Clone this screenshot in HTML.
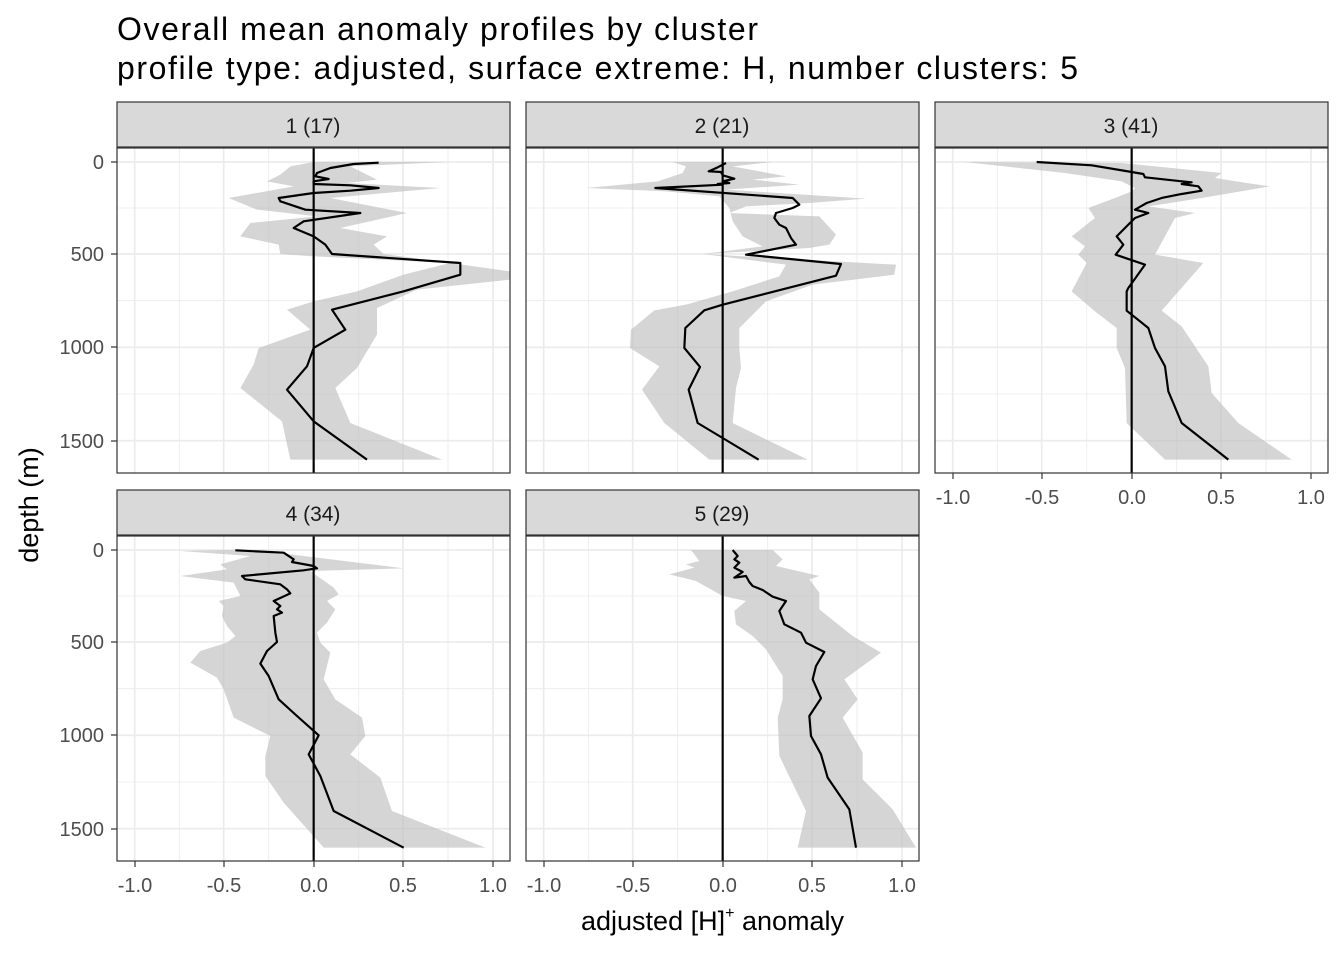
<!DOCTYPE html>
<html><head><meta charset="utf-8"><style>html,body{margin:0;padding:0;background:#fff}svg{display:block}text{font-family:"Liberation Sans",sans-serif}</style></head>
<body>
<svg width="1344" height="960" viewBox="0 0 1344 960" xmlns="http://www.w3.org/2000/svg">
<defs>
<g id="grid">
<rect x="0" y="0" width="1179" height="975" fill="#fff"/>
<g stroke="#ebebeb" stroke-width="2.6">
<line x1="187" y1="0" x2="187" y2="975"/><line x1="455" y1="0" x2="455" y2="975"/><line x1="725" y1="0" x2="725" y2="975"/><line x1="993" y1="0" x2="993" y2="975"/>
<line x1="0" y1="180" x2="1179" y2="180"/><line x1="0" y1="458" x2="1179" y2="458"/><line x1="0" y1="738" x2="1179" y2="738"/>
</g>
<g stroke="#ebebeb" stroke-width="5">
<line x1="53" y1="0" x2="53" y2="975"/><line x1="320" y1="0" x2="320" y2="975"/><line x1="590" y1="0" x2="590" y2="975"/><line x1="858" y1="0" x2="858" y2="975"/><line x1="1128" y1="0" x2="1128" y2="975"/>
<line x1="0" y1="42" x2="1179" y2="42"/><line x1="0" y1="318" x2="1179" y2="318"/><line x1="0" y1="598" x2="1179" y2="598"/><line x1="0" y1="878" x2="1179" y2="878"/>
</g>
</g>
</defs>

<text x="117" y="40" font-size="32" fill="#000" textLength="641">Overall mean anomaly profiles by cluster</text>
<text x="117" y="79" font-size="32" fill="#000" textLength="961">profile type: adjusted, surface extreme: H, number clusters: 5</text>

<!-- Panel 1 -->
<g transform="translate(117,148) scale(0.33333)">
<use href="#grid"/>
<polygon fill="#bebebe" fill-opacity="0.65" points="990,42 700,55 780,95 690,105 970,120 640,150 870,195 670,240 810,265 770,290 800,318 1000,345 1179,370 1179,395 900,425 780,480 780,560 720,660 655,720 700,825 975,935 520,935 495,820 370,720 410,650 425,600 580,545 510,485 590,460 720,430 860,380 1000,345 590,325 490,318 485,290 370,265 400,225 600,205 420,185 335,150 530,115 450,100 490,80 520,55 590,42"/>
<line x1="590" y1="0" x2="590" y2="975" stroke="#000" stroke-width="6.5"/>
<polyline fill="none" stroke="#000" stroke-width="6.5" stroke-linejoin="round" points="785,44 710,48 640,60 600,75 595,85 635,93 590,100 590,108 700,112 785,120 700,128 590,135 485,150 490,160 565,185 730,195 560,220 530,240 590,265 625,290 645,318 1030,345 1030,380 860,430 645,485 685,545 590,600 570,655 510,725 590,820 750,935"/>
</g>
<!-- Panel 2 -->
<g transform="translate(526,148) scale(0.33333)">
<use href="#grid"/>
<polygon fill="#bebebe" fill-opacity="0.65" points="740,42 620,55 780,85 680,95 820,110 600,125 1020,152 850,165 660,175 610,195 880,205 930,260 910,290 850,300 530,318 1110,350 1105,380 860,410 720,460 690,490 640,540 640,600 645,660 630,720 620,825 845,935 550,935 415,825 348,725 400,655 312,600 315,545 385,487 480,470 620,430 760,385 780,350 530,318 710,295 650,265 620,220 610,180 580,145 420,130 180,120 395,100 470,75 480,55 440,42"/>
<line x1="590" y1="0" x2="590" y2="975" stroke="#000" stroke-width="6.5"/>
<polyline fill="none" stroke="#000" stroke-width="6.5" stroke-linejoin="round" points="600,45 575,58 548,70 585,72 590,82 625,92 590,100 610,105 575,108 590,110 388,120 800,150 820,170 800,180 750,195 745,210 760,230 780,240 795,270 810,290 660,320 945,348 930,383 590,470 535,487 478,540 475,600 522,657 488,725 515,825 590,870 698,935"/>
</g>
<!-- Panel 3 -->
<g transform="translate(935,148) scale(0.33333)">
<use href="#grid"/>
<polygon fill="#bebebe" fill-opacity="0.65" points="90,42 560,45 860,75 840,90 935,105 1005,115 800,150 640,175 780,195 720,210 660,320 805,345 680,488 740,535 820,655 830,735 910,825 1070,935 690,935 575,825 570,660 545,600 545,540 480,490 410,430 455,345 430,320 450,295 410,265 480,210 460,180 540,150 590,130 600,120 560,100 390,75"/>
<line x1="590" y1="0" x2="590" y2="975" stroke="#000" stroke-width="6.5"/>
<polyline fill="none" stroke="#000" stroke-width="6.5" stroke-linejoin="round" points="305,42 470,52 590,72 625,78 630,88 740,100 770,103 740,108 790,115 800,128 740,138 680,150 635,165 600,185 640,195 600,210 580,230 545,265 565,290 542,320 630,350 580,420 575,430 575,488 640,540 660,600 690,655 700,730 740,825 880,935"/>
</g>
<!-- Panel 4 -->
<g transform="translate(117,536) scale(0.33333)">
<use href="#grid"/>
<polygon fill="#bebebe" fill-opacity="0.65" points="340,42 520,55 860,97 580,105 650,155 665,175 630,195 655,220 630,260 600,290 610,320 640,350 620,430 655,490 735,545 745,600 700,655 790,725 825,825 1105,935 620,935 500,800 445,720 445,660 460,600 350,545 320,460 300,425 220,380 250,345 330,320 355,300 330,270 315,240 320,210 305,195 370,180 350,140 190,120 330,100 310,85 400,60 190,45"/>
<line x1="590" y1="0" x2="590" y2="975" stroke="#000" stroke-width="6.5"/>
<polyline fill="none" stroke="#000" stroke-width="6.5" stroke-linejoin="round" points="355,43 500,50 530,70 525,78 590,90 600,97 560,103 375,120 385,130 490,145 510,160 520,172 470,195 490,210 480,220 495,230 470,240 475,290 480,318 450,345 430,383 455,420 485,490 540,540 605,598 575,655 610,720 650,825 860,935"/>
</g>
<!-- Panel 5 -->
<g transform="translate(526,536) scale(0.33333)">
<use href="#grid"/>
<polygon fill="#bebebe" fill-opacity="0.65" points="740,42 770,70 750,90 880,120 850,130 880,170 880,220 980,300 1065,350 955,430 995,490 950,545 1010,650 1010,730 1100,820 1170,935 815,935 840,825 760,660 755,545 770,490 770,420 720,340 680,300 630,265 625,225 660,195 590,180 510,135 430,115 505,95 480,85 520,75 495,42"/>
<line x1="590" y1="0" x2="590" y2="975" stroke="#000" stroke-width="6.5"/>
<polyline fill="none" stroke="#000" stroke-width="6.5" stroke-linejoin="round" points="620,42 635,60 625,70 640,80 625,95 650,108 625,125 660,120 670,138 680,150 710,162 740,182 780,195 760,225 775,265 825,290 840,320 895,348 870,390 860,430 885,487 850,540 855,600 885,655 905,725 970,820 990,935"/>
</g>

<g fill="none" stroke="#333" stroke-width="1.2">
<rect x="117" y="148" width="393" height="325"/>
<rect x="526" y="148" width="393" height="325"/>
<rect x="935" y="148" width="393" height="325"/>
<rect x="117" y="536" width="393" height="325"/>
<rect x="526" y="536" width="393" height="325"/>
</g>
<g fill="#d9d9d9" stroke="#333" stroke-width="1.2">
<rect x="117" y="102" width="393" height="45"/>
<rect x="526" y="102" width="393" height="45"/>
<rect x="935" y="102" width="393" height="45"/>
<rect x="117" y="490" width="393" height="45"/>
<rect x="526" y="490" width="393" height="45"/>
</g>
<g font-size="21" fill="#1a1a1a" text-anchor="middle">
<text x="313" y="133">1 (17)</text>
<text x="722" y="133">2 (21)</text>
<text x="1131" y="133">3 (41)</text>
<text x="313" y="521">4 (34)</text>
<text x="722" y="521">5 (29)</text>
</g>

<g stroke="#333" stroke-width="1.2">
<line x1="111" y1="162" x2="117" y2="162"/><line x1="111" y1="254" x2="117" y2="254"/><line x1="111" y1="347" x2="117" y2="347"/><line x1="111" y1="441" x2="117" y2="441"/>
<line x1="111" y1="550" x2="117" y2="550"/><line x1="111" y1="642" x2="117" y2="642"/><line x1="111" y1="735" x2="117" y2="735"/><line x1="111" y1="829" x2="117" y2="829"/>
</g>
<g font-size="20" fill="#4d4d4d" text-anchor="end">
<text x="104" y="169">0</text><text x="104" y="261">500</text><text x="104" y="354">1000</text><text x="104" y="448">1500</text>
<text x="104" y="557">0</text><text x="104" y="649">500</text><text x="104" y="742">1000</text><text x="104" y="836">1500</text>
</g>

<g stroke="#333" stroke-width="1.2">
<line x1="953" y1="473" x2="953" y2="479"/><line x1="1042" y1="473" x2="1042" y2="479"/><line x1="1132" y1="473" x2="1132" y2="479"/><line x1="1221" y1="473" x2="1221" y2="479"/><line x1="1311" y1="473" x2="1311" y2="479"/>
<line x1="135" y1="861" x2="135" y2="867"/><line x1="224" y1="861" x2="224" y2="867"/><line x1="314" y1="861" x2="314" y2="867"/><line x1="403" y1="861" x2="403" y2="867"/><line x1="493" y1="861" x2="493" y2="867"/>
<line x1="544" y1="861" x2="544" y2="867"/><line x1="633" y1="861" x2="633" y2="867"/><line x1="723" y1="861" x2="723" y2="867"/><line x1="812" y1="861" x2="812" y2="867"/><line x1="902" y1="861" x2="902" y2="867"/>
</g>
<g font-size="20" fill="#4d4d4d" text-anchor="middle">
<text x="953" y="504">-1.0</text><text x="1042" y="504">-0.5</text><text x="1132" y="504">0.0</text><text x="1221" y="504">0.5</text><text x="1311" y="504">1.0</text>
<text x="135" y="892">-1.0</text><text x="224" y="892">-0.5</text><text x="314" y="892">0.0</text><text x="403" y="892">0.5</text><text x="493" y="892">1.0</text>
<text x="544" y="892">-1.0</text><text x="633" y="892">-0.5</text><text x="723" y="892">0.0</text><text x="812" y="892">0.5</text><text x="902" y="892">1.0</text>
</g>

<text x="581" y="930" font-size="27" fill="#000">adjusted [H]<tspan font-size="16" dy="-12">+</tspan><tspan dy="12"> anomaly</tspan></text>
<text transform="translate(38,505) rotate(-90)" font-size="27" fill="#000" text-anchor="middle">depth (m)</text>
</svg>
</body></html>
